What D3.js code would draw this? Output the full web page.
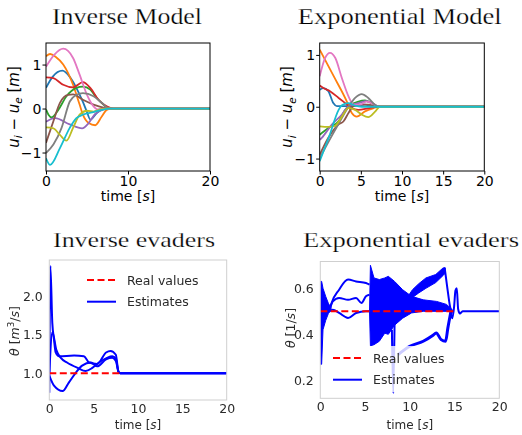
<!DOCTYPE html>
<html>
<head>
<meta charset="utf-8">
<script src="https://cdn.jsdelivr.net/npm/d3@7"></script>
<style>
  body { margin: 0; background: #fff; }
  svg { display: block; }
</style>
</head>
<body>
<svg id="fig" width="522" height="435"></svg>
<script>
// ---------------- data ----------------
// relative position u_i - u_e of each pursuer over time, [t, value]
const invBlue   = [[0,0.47],[0.8,0.72],[2.0,0.86],[2.9,0.72],[3.7,0.47],[4.5,0.15],[5.0,-0.08],[5.4,-0.25],[6.2,-0.1],[7.2,0],[20,0]];
const invOrange = [[0,1.19],[0.5,1.24],[1.2,1.17],[2.1,1.0],[3.3,0.54],[4.1,0.09],[4.5,-0.14],[5.2,-0.33],[6.0,-0.38],[6.8,-0.18],[7.4,-0.03],[8,0],[20,0]];
const invGreen  = [[0,-0.02],[0.3,-0.14],[0.7,-0.2],[1.5,-0.03],[2.5,0.28],[3.7,0.47],[4.5,0.5],[5.4,0.43],[6.2,0.24],[7,0.09],[7.8,0],[20,0]];
const invRed    = [[0,0.71],[0.9,0.69],[2.1,0.54],[3.3,0.48],[4.5,0.6],[5.4,0.47],[6.4,0.2],[7.4,0.05],[8.2,0],[20,0]];
const invPurple = [[0,-0.3],[1.1,-0.22],[2.9,-0.36],[4.4,-0.45],[5.2,-0.33],[6.0,-0.12],[7,-0.02],[7.6,0],[20,0]];
const invBrown  = [[0,-0.78],[0.9,-0.29],[1.7,0.13],[2.7,0.31],[3.3,0.32],[4.5,0.2],[5.8,0.09],[7,0.02],[7.6,0],[20,0]];
const invPink   = [[0,0.95],[1.0,1.22],[2.1,1.36],[3.3,1.15],[4.1,0.77],[5.0,0.31],[5.8,0.05],[6.3,-0.02],[7,0],[20,0]];
const invGray   = [[0,-1.01],[0.9,-0.82],[1.9,-0.44],[2.9,0.16],[3.7,0.31],[4.5,0.35],[5.8,0.28],[6.8,0.13],[7.6,0.01],[8.2,0],[20,0]];
const invOlive  = [[0,-0.43],[0.9,-0.45],[1.7,-0.6],[2.5,-0.73],[3.3,-0.44],[4.1,-0.14],[5,-0.05],[5.8,-0.07],[6.6,-0.02],[7.3,0],[20,0]];
const invCyan   = [[0,-1.13],[0.5,-1.28],[1.7,-0.9],[2.9,-0.44],[3.7,-0.22],[4.5,-0.14],[5.8,-0.08],[6.8,-0.03],[7.8,0],[20,0]];

const expBlue   = [[0,0.33],[0.45,0.36],[1.05,0.3],[1.65,0.07],[2.1,0.01],[3.5,0.01],[4.5,0.02],[5.5,0.04],[6.5,0],[20,0]];
const expOrange = [[0,1.1],[1.7,0.59],[3.3,0.1],[3.9,-0.12],[4.5,-0.19],[5.5,-0.09],[6.5,-0.03],[7.2,0],[20,0]];
const expGreen  = [[0,-0.54],[1.05,-0.41],[2.3,-0.28],[3.1,-0.06],[3.7,0.03],[4.7,0.1],[5.5,0.12],[6.3,0.07],[7.2,0],[20,0]];
const expRed    = [[0,0.41],[0.45,0.36],[1.25,0.3],[2.3,0.17],[3.1,0.07],[3.9,-0.03],[4.7,-0.06],[5.9,-0.03],[7,0],[20,0]];
const expPurple = [[0,-0.64],[0.25,-0.6],[1.45,-0.35],[2.7,-0.15],[3.5,0.01],[4.7,0.07],[5.7,0.11],[6.5,0.06],[7.2,0],[20,0]];
const expBrown  = [[0,-0.93],[1.05,-0.6],[2.3,-0.34],[2.9,-0.28],[3.5,-0.12],[4.1,0.01],[5.1,0.04],[5.9,0.04],[7,0],[20,0]];
const expPink   = [[0,0.59],[0.65,0.94],[1.25,1.04],[1.9,0.94],[2.7,0.55],[3.5,0.2],[4.1,0.04],[4.9,0.04],[5.7,0.1],[6.3,0.07],[7.2,0],[20,0]];
const expGray   = [[0,-0.99],[1.2,-0.64],[2.4,-0.3],[3.5,0.0],[4.3,0.17],[5.1,0.245],[5.9,0.17],[6.7,0.04],[7.3,0],[20,0]];
const expOlive  = [[0,-0.38],[1.05,-0.39],[1.85,-0.37],[2.7,-0.19],[3.5,-0.02],[4.3,-0.06],[5.1,-0.15],[5.9,-0.2],[6.7,-0.1],[7.3,0],[20,0]];
const expCyan   = [[0,-1.05],[1.2,-0.55],[2.3,-0.06],[2.7,0.03],[3.5,0.07],[4.3,0.02],[5.1,0],[20,0]];

const inverseModel     = [invBlue, invOrange, invGreen, invRed, invPurple, invBrown, invPink, invGray, invOlive, invCyan];
const exponentialModel = [expBlue, expOrange, expGreen, expRed, expPurple, expBrown, expPink, expGray, expOlive, expCyan];

// parameter estimates theta, [t, value]
const invReal = [[0,1.0],[8,1.0]];
const invEst1 = [[0,0.75],[0.12,2.39],[0.34,1.65],[0.53,1.44],[0.72,1.27],[1.1,1.22],[2.8,1.23],[3.9,1.22],[4.5,1.14],[5.4,1.12],[6.4,1.27],[6.9,1.29],[7.5,1.24],[7.8,1.02],[8,1.0],[20,1.0]];
const invEst2 = [[0,1.0],[0.35,1.53],[0.8,1.3],[1.3,1.2],[2.0,1.14],[3.2,1.07],[4.1,1.03],[4.85,1.07],[5.6,1.14],[6.5,1.2],[7.1,1.22],[7.5,1.19],[7.8,1.02],[8,1.0],[20,1.0]];
const invEst3 = [[0,0.97],[0.53,0.84],[1.5,0.77],[2.2,0.88],[3.0,1.01],[3.7,1.1],[4.7,1.14],[5.4,1.09],[6.4,1.18],[7.1,1.2],[7.5,1.16],[7.8,1.02],[8,1.0],[20,1.0]];
const inverseEstimates = [invEst1, invEst2, invEst3];

const expReal = [[0,0.5],[15,0.5]];
// fast-switching estimates, kept as [t, low, high] envelopes
const expBandStart = [[0,0.27,0.63],[0.15,0.27,0.63],[0.3,0.42,0.6],[0.6,0.46,0.565],[0.9,0.49,0.535],[1.2,0.505,0.515]];
const expBandMid   = [[5.5,0.5,0.5],[5.6,0.35,0.70],[6.0,0.355,0.645],[6.6,0.37,0.638],[7.2,0.405,0.645],[7.6,0.40,0.652],[8.3,0.44,0.63],[9.2,0.47,0.594],[10.2,0.493,0.565],[11.5,0.5,0.55],[13,0.5,0.543],[14.1,0.5,0.53],[14.8,0.5,0.505]];
const expBandRise  = [[9.8,0.545,0.565],[10.3,0.56,0.594],[11.0,0.58,0.62],[11.8,0.6,0.645],[12.9,0.625,0.66],[13.7,0.655,0.688],[13.95,0.665,0.69]];
const expEstTop    = [[1.0,0.5],[1.2,0.53],[2.1,0.594],[3.1,0.638],[4.0,0.63],[5.1,0.623],[5.5,0.616]];
const expEstMid    = [[1.0,0.5],[1.4,0.543],[2.1,0.558],[3.1,0.55],[4.0,0.558],[4.6,0.536],[5.1,0.565],[5.5,0.572]];
const expEstLow    = [[1.0,0.5],[1.4,0.507],[2.1,0.493],[3.1,0.471],[4.0,0.493],[5.1,0.5],[5.5,0.5]];
const expEstDrop   = [[13.9,0.688],[14.2,0.6],[14.5,0.52],[14.7,0.49]];
const expEstSpike  = [[8.0,0.42],[8.15,0.145],[8.3,0.45]];
const expEstLower  = [[8.7,0.312],[10,0.348],[11.5,0.37],[12.6,0.396],[12.95,0.406],[13.5,0.377],[14,0.37],[14.25,0.427],[14.6,0.5]];
const expEstTail   = [[14.5,0.51],[14.75,0.47],[14.95,0.52],[15.1,0.59],[15.25,0.6],[15.4,0.51],[15.6,0.49],[15.9,0.5],[20,0.5]];
const exponentialLines = [expEstTop, expEstMid, expEstLow, expEstDrop, expEstSpike, expEstTail];

const ticksTopLeftX  = [0, 10, 20];
const ticksTopRightX = [0, 5, 10, 15, 20];
const ticksTopY      = [-1, 0, 1];
const ticksBottomX   = [0, 5, 10, 15, 20];
const ticksInvTheta  = [1.0, 1.5, 2.0];
const ticksExpTheta  = [0.2, 0.4, 0.6];
const legendLabels   = ["Real values", "Estimates"];

// ---------------- drawing ----------------
const svg = d3.select("#fig");
const defs = svg.append("defs");
defs.append("filter").attr("id", "soft")
  .attr("x", "-5%").attr("y", "-5%").attr("width", "110%").attr("height", "110%")
  .append("feGaussianBlur").attr("stdDeviation", 0.5);

const SANS = "DejaVu Sans";
const SERIF = "Liberation Serif";
const colors = d3.schemeCategory10;

function clip(id, x0, y0, x1, y1) {
  defs.append("clipPath").attr("id", id)
    .append("rect").attr("x", x0).attr("y", y0).attr("width", x1 - x0).attr("height", y1 - y0);
  return `url(#${id})`;
}

// serif panel title; a thin white outline keeps the strokes light
function title(g, text, cx, y, width, size) {
  g.append("text").attr("x", cx).attr("y", y)
    .attr("text-anchor", "middle")
    .attr("font-family", SERIF).attr("font-size", size)
    .attr("textLength", width).attr("lengthAdjust", "spacingAndGlyphs")
    .attr("fill", "#000").attr("stroke", "#fff").attr("stroke-width", 0.25)
    .text(text);
}

// rich text: parts = [text, italic?, shift] where shift is "sub"/"sup"/null
function rich(textSel, parts, size) {
  parts.forEach(([s, it, shift]) => {
    const t = textSel.append("tspan").text(s);
    if (it) t.attr("font-style", "italic");
    if (shift === "sub") t.attr("font-size", size * 0.7).attr("dy", size * 0.22);
    if (shift === "sup") t.attr("font-size", size * 0.7).attr("dy", -size * 0.4);
    if (shift === "back-sub") t.attr("dy", -size * 0.22);
    if (shift === "back-sup") t.attr("dy", size * 0.4);
  });
}

function timeLabel(g, cx, y, size, fill) {
  const t = g.append("text").attr("x", cx).attr("y", y).attr("text-anchor", "middle")
    .attr("font-family", SANS).attr("font-size", size).attr("fill", fill);
  rich(t, [["time [", false, null], ["s", true, null], ["]", false, null]], size);
}

// ---------- top panels ----------
function modelPanel(opts) {
  const g = svg.append("g");
  const x = d3.scaleLinear().domain([0, 20]).range([opts.x0, opts.x1]);
  const y = d3.scaleLinear().domain(opts.yDomain).range([opts.y1, opts.y0]);
  const line = d3.line().x(d => x(d[0])).y(d => y(d[1])).curve(d3.curveMonotoneX);

  const plot = g.append("g").attr("clip-path", clip(opts.id, opts.x0, opts.y0, opts.x1, opts.y1));
  opts.series.forEach((s, i) => {
    plot.append("path").datum(s).attr("d", line)
      .attr("fill", "none").attr("stroke", colors[i]).attr("stroke-width", 1.8)
      .attr("stroke-linejoin", "round");
  });

  const ax = g.append("g").attr("transform", `translate(0,${opts.y1})`)
    .call(d3.axisBottom(x).tickValues(opts.xTicks).tickFormat(d3.format("d")).tickSize(3.5).tickPadding(1.5));
  const ay = g.append("g").attr("transform", `translate(${opts.x0},0)`)
    .call(d3.axisLeft(y).tickValues(ticksTopY).tickFormat(d3.format("d")).tickSize(3.5).tickPadding(1));
  [ax, ay].forEach(a => {
    a.select(".domain").remove();
    a.selectAll("text").attr("font-family", SANS).attr("font-size", 14).attr("fill", "#000");
    a.selectAll("line").attr("stroke", "#000");
  });

  g.append("rect").attr("x", opts.x0).attr("y", opts.y0)
    .attr("width", opts.x1 - opts.x0).attr("height", opts.y1 - opts.y0)
    .attr("fill", "none").attr("stroke", "#000").attr("stroke-width", 1);

  const yl = g.append("text")
    .attr("transform", `translate(${opts.x0 - 27.5},${(opts.y0 + opts.y1) / 2}) rotate(-90)`)
    .attr("text-anchor", "middle").attr("font-family", SANS).attr("font-size", 15).attr("fill", "#000");
  rich(yl, [["u", true, null], ["i", true, "sub"], [" \u2212 ", false, "back-sub"],
            ["u", true, null], ["e", true, "sub"], [" [", false, "back-sub"], ["m", true, null], ["]", false, null]], 15);

  timeLabel(g, (opts.x0 + opts.x1) / 2, 201, 14, "#000");
  title(g, opts.title, opts.titleX, 24, opts.titleW, 24);
}

modelPanel({ id: "c1", x0: 46, x1: 210, y0: 43, y1: 171, yDomain: [-1.42, 1.49],
  series: inverseModel, xTicks: ticksTopLeftX, title: "Inverse Model", titleX: 127, titleW: 150 });
modelPanel({ id: "c2", x0: 319.7, x1: 484.3, y0: 43, y1: 171, yDomain: [-1.24, 1.23],
  series: exponentialModel, xTicks: ticksTopRightX, title: "Exponential Model", titleX: 399.7, titleW: 204 });

// ---------- bottom panels ----------
function evaderPanel(opts) {
  const g = svg.append("g").attr("filter", "url(#soft)");
  const x = d3.scaleLinear().domain([0, 20]).range([opts.x0, opts.x1]);
  const y = d3.scaleLinear().domain(opts.yDomain).range([opts.y1, opts.y0]);
  const line = d3.line().x(d => x(d[0])).y(d => y(d[1]));
  const smooth = d3.line().x(d => x(d[0])).y(d => y(d[1])).curve(d3.curveMonotoneX);
  const band = d3.area().x(d => x(d[0])).y0(d => y(d[1])).y1(d => y(d[2]));

  const plot = g.append("g").attr("clip-path", clip(opts.id, opts.x0, opts.y0, opts.x1, opts.y1));
  (opts.bands || []).forEach(b => plot.append("path").datum(b).attr("d", band)
    .attr("fill", "#0000ff").attr("stroke", "#0000ff").attr("stroke-width", 1));
  if (opts.thick) plot.append("path").datum(opts.thick).attr("d", smooth)
    .attr("fill", "none").attr("stroke", "#0000ff").attr("stroke-width", 3);
  opts.lines.forEach(s => plot.append("path").datum(s).attr("d", smooth)
    .attr("fill", "none").attr("stroke", "#0000ff").attr("stroke-width", 2).attr("stroke-linejoin", "round"));
  plot.append("path").datum(opts.real).attr("d", line)
    .attr("fill", "none").attr("stroke", "#ff0000").attr("stroke-width", 2).attr("stroke-dasharray", "7,3.5");

  g.append("rect").attr("x", opts.x0).attr("y", opts.y0)
    .attr("width", opts.x1 - opts.x0).attr("height", opts.y1 - opts.y0)
    .attr("fill", "none").attr("stroke", "#cfcfcf").attr("stroke-width", 1);

  const ax = g.append("g").attr("transform", `translate(0,${opts.y1})`)
    .call(d3.axisBottom(x).tickValues(ticksBottomX).tickFormat(d3.format("d")).tickSize(0).tickPadding(4));
  const ay = g.append("g").attr("transform", `translate(${opts.x0},0)`)
    .call(d3.axisLeft(y).tickValues(opts.yTicks).tickFormat(d3.format(".1f")).tickSize(0).tickPadding(6.5));
  [ax, ay].forEach(a => {
    a.select(".domain").remove();
    a.selectAll("text").attr("font-family", SANS).attr("font-size", 12.5).attr("fill", "#2a2a2a");
  });

  // legend
  const lg = g.append("g");
  lg.append("rect").attr("x", opts.lx - 6).attr("y", opts.ly - 12)
    .attr("width", 134).attr("height", 46).attr("fill", "#fff").attr("fill-opacity", 0.8);
  [["#ff0000", "7,3.5"], ["#0000ff", null]].forEach(([c, dash], i) => {
    const yy = opts.ly + i * 21.7;
    const l = lg.append("line").attr("x1", opts.lx).attr("x2", opts.lx + 29)
      .attr("y1", yy).attr("y2", yy).attr("stroke", c).attr("stroke-width", 2);
    if (dash) l.attr("stroke-dasharray", dash);
    lg.append("text").attr("x", opts.lx + 40).attr("y", yy + 4.5)
      .attr("font-family", SANS).attr("font-size", 12.5).attr("fill", "#2a2a2a").text(legendLabels[i]);
  });

  const yl = g.append("text")
    .attr("transform", `translate(${opts.ylx},${opts.yly}) rotate(-90)`)
    .attr("text-anchor", "middle").attr("font-family", SANS).attr("font-size", 12.5).attr("fill", "#2a2a2a");
  rich(yl, opts.ylabel, 12.5);

  timeLabel(g, (opts.x0 + opts.x1) / 2, 429, 12, "#2a2a2a");
  title(svg, opts.title, opts.titleX, 246.7, opts.titleW, 22);
}

evaderPanel({ id: "c3", x0: 49.3, x1: 226.7, y0: 260, y1: 400, yDomain: [0.655, 2.466],
  lines: inverseEstimates, real: invReal, yTicks: ticksInvTheta,
  lx: 87, ly: 280, ylx: 19, yly: 331,
  ylabel: [["\u03b8", true, null], [" [", false, null], ["m", true, null], ["3", false, "sup"],
           ["/", false, "back-sup"], ["s", true, null], ["]", false, null]],
  title: "Inverse evaders", titleX: 134, titleW: 162 });

evaderPanel({ id: "c4", x0: 320.3, x1: 499.3, y0: 261.5, y1: 398.3, yDomain: [0.122, 0.7165],
  bands: [expBandStart, expBandMid, expBandRise], thick: expEstLower,
  lines: exponentialLines, real: expReal, yTicks: ticksExpTheta,
  lx: 333, ly: 358, ylx: 295, yly: 328,
  ylabel: [["\u03b8", true, null], [" [1/", false, null], ["s", true, null], ["]", false, null]],
  title: "Exponential evaders", titleX: 411, titleW: 216 });
</script>
</body>
</html>
